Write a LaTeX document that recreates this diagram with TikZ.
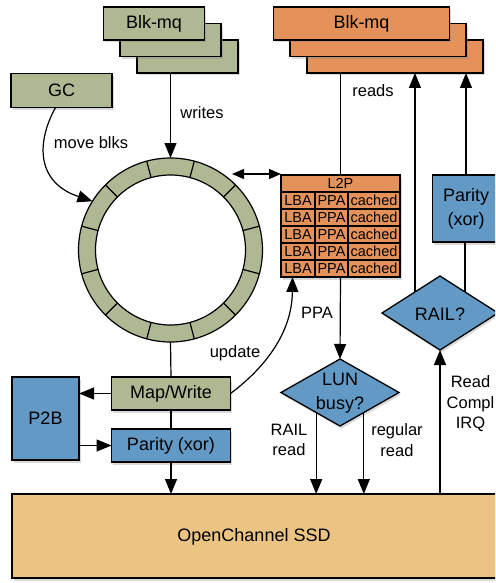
\documentclass[tikz,border=0pt]{standalone}
\usepackage{fontspec}
\setmainfont{Liberation Sans}
\usetikzlibrary{shapes.geometric,shadows,arrows.meta,calc}
\definecolor{cgreen}{HTML}{AEB893}
\definecolor{corange}{HTML}{E4925A}
\definecolor{cblue}{HTML}{6299C5}
\definecolor{cssd}{HTML}{EBC383}
\begin{document}
\begin{tikzpicture}[x=1pt,y=-1pt,
  every node/.style={inner sep=0pt, outer sep=0pt},
  box/.style={draw=black, line width=1.3pt, rectangle, font=\fontsize{18}{24}\selectfont, align=center,
    drop shadow={shadow xshift=1.5pt, shadow yshift=-2.5pt, opacity=0.3}},
  txt/.style={font=\fontsize{18}{23.5}\selectfont, align=center},
  lbl/.style={font=\fontsize{16.5}{20.5}\selectfont, align=center},
  cell/.style={font=\fontsize{14.5}{16}\selectfont},
  conn/.style={line width=1.2pt},
  arr/.style={conn, -{Triangle[length=15pt,width=12pt]}},
  dbl/.style={conn, {Triangle[length=12pt,width=10pt]}-{Triangle[length=12pt,width=10pt]}},
  ]
\useasboundingbox (0,0) rectangle (495,583);
\clip (0,0) rectangle (495,583);

% green Blk-mq stack
\node[box, fill=cgreen, minimum width=101pt, minimum height=33pt] (gb3) at (187.5,56.5) {};
\node[box, fill=cgreen, minimum width=101pt, minimum height=33pt] (gb2) at (170.5,40) {};
\node[box, fill=cgreen, minimum width=101pt, minimum height=33pt] (gb1) at (154,23.5) {Blk-mq};

% GC
\node[box, fill=cgreen, minimum width=101pt, minimum height=34pt] (gc) at (61.5,90.5) {GC};

% orange Blk-mq stack
\node[box, fill=corange, minimum width=176pt, minimum height=33pt] (ob3) at (395,56.5) {};
\node[box, fill=corange, minimum width=176pt, minimum height=33pt] (ob2) at (378,40) {};
\node[box, fill=corange, minimum width=176pt, minimum height=33pt] (ob1) at (361.5,23.5) {Blk-mq};

% ring buffer
\fill[cgreen, even odd rule] (170.5,250) circle[radius=92pt] (170.5,250) circle[radius=75pt];
\draw[conn] (170.5,250) circle[radius=92pt];
\draw[conn] (170.5,250) circle[radius=75pt];
\foreach \a in {15,45,...,345}
  \draw[conn] ($(170.5,250)+(\a:75pt)$) -- ($(170.5,250)+(\a:92pt)$);
\node[circle, minimum size=184pt] (ring) at (170.5,250) {};

% L2P table
\node[box, fill=corange, minimum width=119pt, minimum height=102pt] (l2p) at (340.5,226) {};
\foreach \y in {192,209,226,243,260} \draw[conn] (281,\y) -- (400,\y);
\draw[conn] (315,192) -- (315,277);
\draw[conn] (348,192) -- (348,277);
\node[cell] (l2ph) at (340.5,183.5) {L2P};
\foreach \y [count=\i] in {200.5,217.5,234.5,251.5,268.5} {
  \node[cell] (lba\i) at (298,\y) {LBA};
  \node[cell] (ppa\i) at (331.5,\y) {PPA};
  \node[cell] (cch\i) at (374,\y) {cached};
}

% right side
\node[box, fill=cblue, minimum width=67pt, minimum height=67pt] (rparity) at (466,208.5) {Parity\\(xor)};
\node[box, diamond, fill=cblue, minimum width=116pt, minimum height=74pt] (rail) at (440,313) {};
\node[txt] (railt) at (440,314) {RAIL?};

% LUN busy
\node[box, diamond, fill=cblue, minimum width=118pt, minimum height=67pt] (lun) at (340,392.5) {};
\node[txt] (lunt) at (340,393) {LUN\\busy?};

% left bottom
\node[box, fill=cgreen, minimum width=119pt, minimum height=33pt] (mapw) at (171,393.5) {Map/Write};
\node[box, fill=cblue, minimum width=67pt, minimum height=83pt] (p2b) at (45.5,418.5) {P2B};
\node[box, fill=cblue, minimum width=119pt, minimum height=33pt] (lparity) at (171,445.5) {Parity (xor)};

% SSD
\node[box, fill=cssd, minimum width=488pt, minimum height=84pt] (ssd) at (256,536) {};
\node[txt] (ssdt) at (254,537) {OpenChannel SSD};

% connectors
\draw[arr] (ring.center |- gb3.south) -- (ring.north);
\node[lbl] (lwrites) at (202,113) {writes};

\draw[arr] ([xshift=-6pt]gc.south) .. controls (35,145) and (38,183) .. (ring.148);
\node[lbl] (lmove) at (91,143) {move blks};

\coordinate (dbla) at (232,174);
\draw[dbl] (dbla) -- (dbla -| l2p.west);

\draw[conn] (l2p.north) -- (l2p.north |- ob3.south);
\node[lbl] (lreads) at (373,91) {reads};

\draw[arr] (rail.140) -- (rail.140 |- ob3.south);
\draw[conn] (rail.40) -- (rail.40 |- rparity.south);
\draw[arr] (rparity.north) -- (rparity.north |- ob3.south);

\draw[arr] (l2p.south) -- (lun.north);
\node[lbl] (lppa) at (317,313) {PPA};

\draw[arr] (lun.220) -- (lun.220 |- ssd.north);
\draw[arr] (lun.320) -- (lun.320 |- ssd.north);
\node[lbl] (lrail) at (289,440) {RAIL\\read};
\node[lbl] (lreg) at (397,440) {regular\\read};

\draw[arr] (rail.south |- ssd.north) -- (rail.south);
\node[lbl] (lirq) at (470.5,404) {Read\\Compl\\IRQ};

\draw[conn] (ring.south) -- (mapw.north);
\draw[arr] (mapw.west) -- (mapw.west -| p2b.east);
\draw[arr] (lparity.west -| p2b.east) -- (lparity.west);
\draw[conn] (mapw.south) -- (lparity.north);
\draw[arr] (lparity.south) -- (lparity.south |- ssd.north);

\draw[arr] (mapw.east) .. controls (262,370) and (292,335) .. ([xshift=11.5pt]l2p.south west);
\node[lbl] (lupd) at (235,353) {update};
\end{tikzpicture}
\end{document}
